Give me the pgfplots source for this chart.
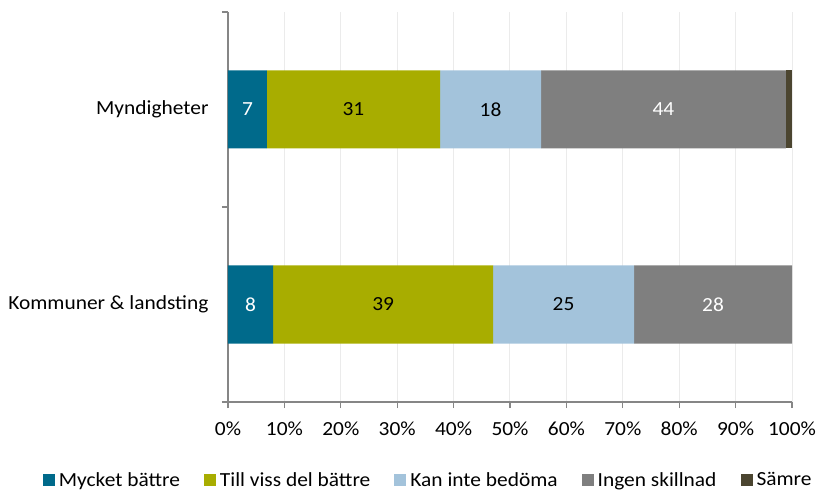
\documentclass[border=0pt]{standalone}
\usepackage{fontspec}
\setmainfont{Carlito}[FakeStretch=1.07]
\usepackage{pgfplots}
\pgfplotsset{compat=1.18}
\definecolor{cBlue}{HTML}{006A8B}
\definecolor{cOlive}{HTML}{A8AD00}
\definecolor{cLight}{HTML}{A3C3DB}
\definecolor{cGray}{HTML}{7F7F7F}
\definecolor{cDark}{HTML}{4B4530}
\definecolor{axgray}{HTML}{868686}
\definecolor{gridgray}{HTML}{EBEBEB}

\begin{document}
\begin{tikzpicture}
\begin{axis}[
    scale only axis, width=564pt, height=390pt,
    xbar stacked, bar width=0.4,
    xmin=0, xmax=100, ymin=-0.5, ymax=1.5,
    font=\fontsize{20}{23}\selectfont,
    /pgf/number format/assume math mode=true,
    axis x line*=bottom, axis y line*=left,
    axis line style={draw=axgray, line width=1.2pt, -},
    xtick={0,10,...,100},
    xticklabel={\pgfmathprintnumber{\tick}\%},
    xtick style={draw=axgray, line width=1.2pt},
    tick align=outside, major tick length=6pt,
    xmajorgrids, grid style={draw=gridgray, line width=1pt},
    ytick={0,1}, yticklabels={Kommuner \& landsting, Myndigheter},
    ytick style={draw=none},
    yticklabel style={xshift=-10pt},
    xticklabel style={yshift=-10pt},
    extra y ticks={-0.5,0.5,1.5}, extra y tick labels={},
    extra y tick style={ytick style={draw=axgray, line width=1.2pt}, grid=none},
    point meta=explicit symbolic,
    every node near coord/.append style={anchor=center},
    legend style={draw=none, at={(0.355,-0.2)}, anchor=center,
        legend columns=-1, font=\fontsize{20}{23}\selectfont,
        /tikz/every even column/.append style={column sep=22pt},
        /tikz/every odd column/.append style={column sep=2pt}},
    legend image code/.code={\fill[#1] (0pt,-6pt) rectangle (12pt,6pt);},
  ]
  \addplot[fill=cBlue, draw=none, nodes near coords,
    every node near coord/.append style={text=white}]
    coordinates {(8,0) [8] (6.9,1) [7]};
  \addlegendentry{Mycket bättre}
  \addplot[fill=cOlive, draw=none, nodes near coords,
    every node near coord/.append style={text=black}]
    coordinates {(39,0) [39] (30.7,1) [31]};
  \addlegendentry{Till viss del bättre}
  \addplot[fill=cLight, draw=none, nodes near coords,
    every node near coord/.append style={text=black}]
    coordinates {(25,0) [25] (17.9,1) [18]};
  \addlegendentry{Kan inte bedöma}
  \addplot[fill=cGray, draw=none, nodes near coords,
    every node near coord/.append style={text=white}]
    coordinates {(28,0) [28] (43.4,1) [44]};
  \addlegendentry{Ingen skillnad}
  \addplot[fill=cDark, draw=none]
    coordinates {(0,0) [] (1.1,1) []};
  \addlegendentry{Sämre}
\end{axis}
\pgfresetboundingbox
\path (current axis.south west) ++(-228pt,-88pt) rectangle ++(817pt,490pt);
\end{tikzpicture}
\end{document}
